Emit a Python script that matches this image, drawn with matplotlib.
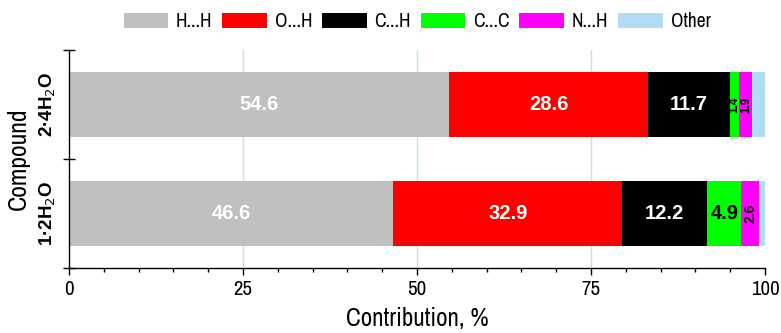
import matplotlib
matplotlib.use("Agg")
import matplotlib.pyplot as plt
from matplotlib.ticker import MultipleLocator, FixedLocator
import numpy as np
import logging
logging.getLogger("matplotlib.font_manager").setLevel(logging.ERROR)

compounds = ["1·2H$_2$O", "2·4H$_2$O"]
categories = ["H...H", "O...H", "C...H", "C...C", "N...H", "Other"]
colors = ["#c0c0c0", "#ff0000", "#000000", "#00ff00", "#ff00ff", "#b0dcf4"]
values = {
    "H...H": [46.6, 54.6],
    "O...H": [32.9, 28.6],
    "C...H": [12.2, 11.7],
    "C...C": [4.9, 1.4],
    "N...H": [2.6, 1.9],
    "Other": [0.8, 1.8],
}
label_colors = ["white", "white", "white", "black", "black", None]

narrow = ["Arial Narrow", "Liberation Sans Narrow", "Archivo Narrow", "PT Sans Narrow",
          "Roboto Condensed", "Liberation Sans", "DejaVu Sans"]
boldfam = ["Liberation Sans", "DejaVu Sans"]
plt.rcParams['font.family'] = narrow

fig = plt.figure(figsize=(7.81, 3.33), dpi=100)
ax = fig.add_axes([69/781, (333-268)/333, (765-69)/781, (268-50)/333])

y = np.arange(len(compounds))
left = np.zeros(len(compounds))
handles = []
for ci, cat in enumerate(categories):
    vals = np.array(values[cat])
    h = ax.barh(y, vals, left=left, height=0.6, color=colors[ci], zorder=2, label=cat)
    handles.append(h)
    lc = label_colors[ci]
    if lc is not None:
        for yi, v in enumerate(vals):
            cx = left[yi] + v / 2
            if v >= 4:
                ax.text(cx, y[yi], f"{v:.1f}", ha="center", va="center", color=lc,
                        fontsize=14.5, fontweight="bold", family=boldfam, zorder=3)
            else:
                fs = 10 if v >= 2.5 else 8.5
                ax.text(cx, y[yi], f"{v:.1f}", ha="center", va="center", color=lc, rotation=90,
                        fontsize=fs, fontweight="bold", family=boldfam, zorder=3)
    left = left + vals

ax.set_xlim(0, 100)
ax.set_ylim(-0.5, 1.5)
ax.xaxis.set_major_locator(FixedLocator([0, 25, 50, 75, 100]))
ax.xaxis.set_minor_locator(MultipleLocator(5))
ax.set_yticks([0, 1])
ax.set_yticklabels(compounds, rotation=90, va="center", fontweight="bold",
                   family=boldfam, fontsize=13.5)
ax.yaxis.set_minor_locator(FixedLocator([-0.5, 0.5, 1.5]))
ax.tick_params(axis="y", which="major", length=0, pad=8)
ax.tick_params(axis="y", which="minor", direction="inout", length=8, width=1)
ax.tick_params(axis="x", which="major", direction="out", length=5, width=1, labelsize=15)
ax.tick_params(axis="x", which="minor", direction="out", length=3, width=1)

for xv in [25, 50, 75]:
    ax.axvline(xv, color="#bfe2f6", lw=1, zorder=1)

for side in ["top", "right"]:
    ax.spines[side].set_visible(False)
for side in ["left", "bottom"]:
    ax.spines[side].set_linewidth(1)

ax.set_xlabel("Contribution, %", fontsize=18)
ax.set_ylabel("Compound", fontsize=18.5)
ax.xaxis.set_label_coords(0.5, -0.18)
ax.yaxis.set_label_coords(-0.056, 0.5)

ax.legend(handles=handles, labels=categories, loc="center", bbox_to_anchor=(0.5, 1.13),
          ncol=6, frameon=False, fontsize=14, handlelength=2.3, handleheight=0.75,
          columnspacing=0.5, handletextpad=0.4)

fig.savefig("out.png", dpi=100)
